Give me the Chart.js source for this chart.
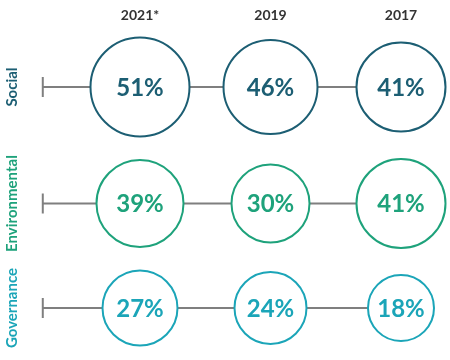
<!DOCTYPE html>
<html>
<head>
<meta charset="utf-8">
<script src="https://cdn.jsdelivr.net/npm/chart.js@4/dist/chart.umd.min.js"></script>
<style>
  html, body { margin: 0; padding: 0; background: #ffffff; }
  #wrap { width: 450px; height: 360px; position: relative; }
</style>
</head>
<body>
<div id="wrap"><canvas id="c" width="450" height="360"></canvas></div>
<script>
// ---- data ----
const years = ['2021*', '2019', '2017'];
const rows = ['Social', 'Environmental', 'Governance'];
const social = [51, 46, 41];
const environmental = [39, 30, 41];
const governance = [27, 24, 18];

// ---- styles / layout ----
const rowColors = ['#1c5e73', '#1ea27b', '#1ba5b8'];
const lineColor = '#7f7f7f';
const radiusOf = v => 24 + 0.5 * v;      // bubble size from value
const topMargin = 37.5;                   // space above first row of circles
const rowGap = 22.5;                      // gap between rows of circles
const lineStartX = -0.745;                // where the row guide line starts (x scale units)

const series = [social, environmental, governance];

// stack rows: each row sits below the previous one by the circles' sizes + gap
const rowY = [];
series.forEach((vals, i) => {
  const rmax = Math.max(...vals.map(radiusOf));
  if (i === 0) rowY.push(topMargin + rmax);
  else {
    const prevMax = Math.max(...series[i - 1].map(radiusOf));
    rowY.push(rowY[i - 1] + prevMax + rowGap + rmax);
  }
});

const datasets = [];
series.forEach((vals, i) => {
  datasets.push({
    type: 'bubble',
    label: rows[i],
    data: vals.map((v, j) => ({ x: j, y: rowY[i], r: radiusOf(v), v: v })),
    backgroundColor: '#ffffff',
    borderColor: rowColors[i],
    borderWidth: 2,
    hoverRadius: 0,
    order: 0,
    clip: false
  });
  datasets.push({
    type: 'line',
    label: rows[i] + ' line',
    data: [{ x: lineStartX, y: rowY[i] }, { x: years.length - 1, y: rowY[i] }],
    borderColor: lineColor,
    borderWidth: 2,
    pointStyle: 'line',
    rotation: 90,
    pointRadius: [10, 0],
    pointBorderColor: lineColor,
    pointBorderWidth: 2,
    order: 1,
    clip: false
  });
});

const labelPlugin = {
  id: 'labels',
  afterDatasetsDraw(chart) {
    const ctx = chart.ctx;
    const xs = chart.scales.x, ys = chart.scales.y;
    ctx.save();
    // values inside bubbles
    chart.data.datasets.forEach((ds, di) => {
      if (ds.type !== 'bubble') return;
      const rowIdx = rows.indexOf(ds.label);
      const meta = chart.getDatasetMeta(di);
      meta.data.forEach((el, j) => {
        ctx.fillStyle = rowColors[rowIdx];
        ctx.font = 'bold 24px Lato';
        ctx.textAlign = 'center';
        ctx.textBaseline = 'middle';
        ctx.fillText(ds.data[j].v + '%', el.x, el.y + 1);
      });
    });
    // column headers
    ctx.fillStyle = '#333333';
    ctx.font = 'bold 14px Lato';
    ctx.textAlign = 'center';
    ctx.textBaseline = 'middle';
    years.forEach((y, j) => ctx.fillText(y, xs.getPixelForValue(j), 15));
    // row labels (rotated)
    rows.forEach((r, i) => {
      ctx.save();
      ctx.translate(12, ys.getPixelForValue(rowY[i]));
      ctx.rotate(-Math.PI / 2);
      ctx.fillStyle = rowColors[i];
      ctx.font = 'bold 15px Lato';
      ctx.textAlign = 'center';
      ctx.textBaseline = 'middle';
      ctx.fillText(r, 0, 0);
      ctx.restore();
    });
    ctx.restore();
  }
};

new Chart(document.getElementById('c'), {
  data: { datasets },
  options: {
    responsive: false,
    animation: false,
    events: [],
    layout: { padding: 0, autoPadding: false },
    plugins: { legend: { display: false }, tooltip: { enabled: false } },
    scales: {
      x: { type: 'linear', display: false, min: -1.0728, max: 2.3755 },
      y: { type: 'linear', display: false, min: 0, max: 360, reverse: true }
    }
  },
  plugins: [labelPlugin]
});
</script>
</body>
</html>
